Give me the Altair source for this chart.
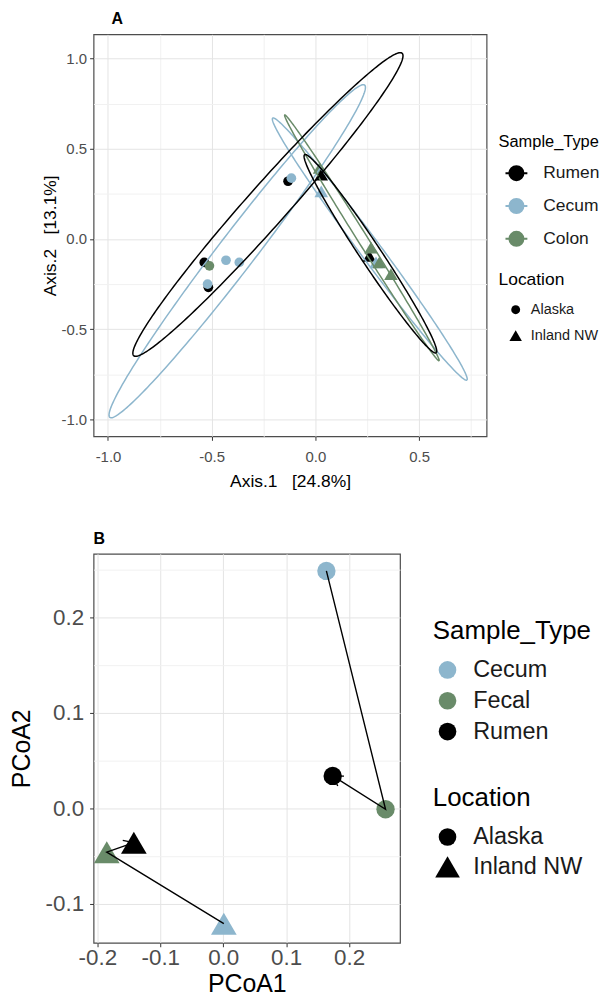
import math
import altair as alt
import numpy as np
import pandas as pd

FONT = "Liberation Sans"
BLACK = "#000000"
BLUE = "#8DB6CD"
GREEN = "#698B69"
TRI = "M0,-1.2L1.4,1.2L-1.4,1.2Z"
GLYPH = "M-1,0L1,0M0.64,0A0.64,0.64,0,1,1,-0.64,0A0.64,0.64,0,1,1,0.64,0Z"
CHEVRON = "M-1,-0.6L0,0L-1,0.6"

# ---------------- Panel A data ----------------
a_type = ["Rumen", "Colon", "Cecum", "Cecum", "Rumen", "Cecum", "Rumen", "Cecum",
          "Colon", "Rumen", "Cecum", "Rumen", "Colon", "Cecum", "Colon", "Colon"]
a_loc = ["Alaska", "Alaska", "Alaska", "Alaska", "Alaska", "Alaska", "Alaska", "Alaska",
         "Inland NW", "Inland NW", "Inland NW", "Inland NW", "Inland NW", "Inland NW",
         "Inland NW", "Inland NW"]
a_x = [-0.536, -0.511, -0.431, -0.367, -0.516, -0.520, -0.132, -0.116,
       0.020, 0.028, 0.028, 0.260, 0.268, 0.292, 0.308, 0.364]
a_y = [-0.130, -0.149, -0.118, -0.130, -0.268, -0.250, 0.320, 0.337,
       0.393, 0.356, 0.264, -0.094, -0.048, -0.130, -0.130, -0.195]

# ellipses: centre + two conjugate semi-axes (data units)
ell_id = ["1_cecum_big", "2_cecum_narrow", "3_colon", "4_rumen_big", "5_rumen_narrow"]
ell_type = ["Cecum", "Cecum", "Colon", "Rumen", "Rumen"]
ell_cx = [-0.377, 0.262, 0.224, -0.229, 0.265]
ell_cy = [-0.068, -0.056, 0.006, 0.191, -0.082]
ell_ax = [0.614, 0.468, 0.372, 0.647, 0.317]
ell_ay = [0.921, -0.726, -0.681, 0.838, -0.549]
ell_bx = [0.0705, 0.040, 0.020, 0.073, 0.042]
ell_by = [-0.062, 0.034, 0.015, -0.075, 0.032]

a_xmajor = [-1.0, -0.5, 0.0, 0.5]
a_xminor = [-0.75, -0.25, 0.25, 0.75]
a_ymajor = [-1.0, -0.5, 0.0, 0.5, 1.0]
a_yminor = [-0.75, -0.25, 0.25, 0.75]
a_xdom = [-1.0695, 0.825]
a_ydom = [-1.094, 1.134]

# ---------------- Panel B data ----------------
b_type = ["Cecum", "Fecal", "Rumen", "Cecum", "Fecal", "Rumen"]
b_loc = ["Alaska", "Alaska", "Alaska", "Inland NW", "Inland NW", "Inland NW"]
b_x = [0.164, 0.258, 0.174, 0.001, -0.185, -0.142]
b_y = [0.249, -0.001, 0.034, -0.121, -0.046, -0.036]
b_step = [0, 1, 2, 0, 1, 2]

b_xmajor = [-0.2, -0.1, 0.0, 0.1, 0.2]
b_xminor = [-0.15, -0.05, 0.05, 0.15, 0.25]
b_ymajor = [-0.1, 0.0, 0.1, 0.2]
b_yminor = [-0.05, 0.05, 0.15, 0.25]
b_xdom = [-0.206, 0.281]
b_ydom = [-0.141, 0.267]

WA, HA = 395, 404
WB, HB = 308, 391


def axis(major, minor, title, lfs, tfs, tpad, lpad):
    arr = "[" + ",".join(str(v) for v in major) + "]"
    test = f"indexof({arr}, datum.value) >= 0"
    return alt.Axis(
        values=major + minor,
        title=title,
        labelExpr=f"({test}) ? replace(format(datum.value, '.1f'), '\u2212', '-') : ''",
        tickOpacity={"condition": {"test": test, "value": 1}, "value": 0},
        gridColor={"condition": {"test": test, "value": "#E4E4E4"}, "value": "#F1F1F1"},
        gridWidth=1,
        grid=True,
        tickSize=4,
        tickColor="#333333",
        tickWidth=1,
        domain=False,
        labelFont=FONT,
        labelFontSize=lfs,
        labelColor="#4D4D4D",
        labelPadding=lpad,
        labelFlush=False,
        labelOverlap=False,
        titleFont=FONT,
        titleFontSize=tfs,
        titleFontWeight="normal",
        titleColor="black",
        titlePadding=tpad,
    )


# ---------------- Panel A ----------------
ptsA = pd.DataFrame({"type": a_type, "loc": a_loc, "x": a_x, "y": a_y})
t = np.linspace(0, 2 * np.pi, 241)
rows = []
for i in range(len(ell_id)):
    for k, tt in enumerate(t):
        rows.append({
            "eid": ell_id[i], "type": ell_type[i], "idx": k,
            "x": ell_cx[i] + ell_ax[i] * math.cos(tt) + ell_bx[i] * math.sin(tt),
            "y": ell_cy[i] + ell_ay[i] * math.cos(tt) + ell_by[i] * math.sin(tt),
        })
ellA = pd.DataFrame(rows)

xA = alt.X("x:Q", scale=alt.Scale(domain=a_xdom, nice=False, zero=False),
           axis=axis(a_xmajor, a_xminor, "Axis.1\u00a0\u00a0\u00a0[24.8%]", 15, 17.5, 8, 9))
yA = alt.Y("y:Q", scale=alt.Scale(domain=a_ydom, nice=False, zero=False),
           axis=axis(a_ymajor, a_yminor, "Axis.2\u00a0\u00a0\u00a0[13.1%]", 15, 17.5, 1, 3))

colA = alt.Scale(domain=["Rumen", "Cecum", "Colon"], range=[BLACK, BLUE, GREEN])
shpA = alt.Scale(domain=["Alaska", "Inland NW"], range=["circle", TRI])

legTypeA = alt.Legend(title="Sample_Type", orient="none", legendX=407, legendY=100,
                      symbolType=GLYPH, symbolSize=484, symbolStrokeWidth=2, symbolOffset=6,
                      titleFont=FONT, titleFontSize=16.5, titleFontWeight="normal", titleColor="black",
                      labelFont=FONT, labelFontSize=17.5, labelColor="#1a1a1a",
                      titlePadding=11, rowPadding=9, labelOffset=15)
legLocA = alt.Legend(title="Location", orient="none", legendX=407, legendY=238,
                     symbolSize=80, symbolStrokeWidth=0, symbolOffset=10,
                     titleFont=FONT, titleFontSize=17.5, titleFontWeight="normal", titleColor="black",
                     labelFont=FONT, labelFontSize=14.5, labelColor="#1a1a1a",
                     titlePadding=14, rowPadding=11, labelOffset=8)

pointsA = alt.Chart(ptsA).mark_point(filled=True, size=95, opacity=1, strokeWidth=0).encode(
    x=xA, y=yA,
    fill=alt.Fill("type:N", scale=colA, legend=legTypeA),
    shape=alt.Shape("loc:N", scale=shpA, legend=legLocA),
)
ellipsesA = alt.Chart(ellA).mark_line(strokeWidth=1.5, clip=True).encode(
    x="x:Q", y="y:Q",
    stroke=alt.Stroke("type:N", scale=colA, legend=legTypeA),
    detail="eid:N",
    order="idx:Q",
)
chartA = alt.layer(pointsA, ellipsesA).properties(
    width=WA, height=HA,
    title=alt.TitleParams("A", anchor="start", frame="group", dx=18, offset=7,
                          font=FONT, fontSize=16, fontWeight="bold", color="black"),
)

# ---------------- Panel B ----------------
ptsB = pd.DataFrame({"type": b_type, "loc": b_loc, "x": b_x, "y": b_y, "step": b_step})

sx = WB / (b_xdom[1] - b_xdom[0])
sy = HB / (b_ydom[1] - b_ydom[0])
arr_rows = []
for loc in ["Alaska", "Inland NW"]:
    sub = ptsB[ptsB["loc"] == loc].sort_values("step")
    p, q = sub.iloc[-2], sub.iloc[-1]
    dx = (q["x"] - p["x"]) * sx
    dy = -(q["y"] - p["y"]) * sy
    ang = math.degrees(math.atan2(dy, dx)) % 360
    arr_rows.append({"x": q["x"], "y": q["y"], "ang": ang})
arrB = pd.DataFrame(arr_rows)

xB = alt.X("x:Q", scale=alt.Scale(domain=b_xdom, nice=False, zero=False),
           axis=axis(b_xmajor, b_xminor, "PCoA1", 22.5, 25, 2, 0))
yB = alt.Y("y:Q", scale=alt.Scale(domain=b_ydom, nice=False, zero=False),
           axis=axis(b_ymajor, b_yminor, "PCoA2", 22.5, 25, 11, 6))

colB = alt.Scale(domain=["Cecum", "Fecal", "Rumen"], range=[BLUE, GREEN, BLACK])
shpB = alt.Scale(domain=["Alaska", "Inland NW"], range=["circle", TRI])

legTypeB = alt.Legend(title="Sample_Type", orient="none", legendX=341, legendY=65,
                      symbolType="circle", symbolSize=314, symbolStrokeWidth=0, symbolOffset=3,
                      titleFont=FONT, titleFontSize=26, titleFontWeight="normal", titleColor="black",
                      labelFont=FONT, labelFontSize=23.5, labelColor="#1a1a1a",
                      titlePadding=14, rowPadding=6, labelOffset=14)
legLocB = alt.Legend(title="Location", orient="none", legendX=341, legendY=233,
                     symbolSize=314, symbolStrokeWidth=0, symbolOffset=3,
                     titleFont=FONT, titleFontSize=26, titleFontWeight="normal", titleColor="black",
                     labelFont=FONT, labelFontSize=23.5, labelColor="#1a1a1a",
                     titlePadding=14, rowPadding=5, labelOffset=14)

pointsB = alt.Chart(ptsB).mark_point(filled=True, size=340, opacity=1, strokeWidth=0).encode(
    x=xB, y=yB,
    fill=alt.Fill("type:N", scale=colB, legend=legTypeB),
    shape=alt.Shape("loc:N", scale=shpB, legend=legLocB),
)
pathB = alt.Chart(ptsB).mark_line(color="black", strokeWidth=1.4).encode(
    x="x:Q", y="y:Q", detail="loc:N", order="step:Q",
)
headB = alt.Chart(arrB).mark_point(shape=CHEVRON, filled=False, size=380, color="black",
                                   strokeWidth=1.4, opacity=1).encode(
    x="x:Q", y="y:Q", angle=alt.Angle("ang:Q", scale=None),
)
chartB = alt.layer(pointsB, pathB, headB).properties(
    width=WB, height=HB,
    title=alt.TitleParams("B", anchor="start", frame="group", dx=0, offset=7,
                          font=FONT, fontSize=16, fontWeight="bold", color="black"),
)

chart = alt.vconcat(chartA, chartB, spacing=118, bounds="flush").resolve_scale(
    fill="independent", stroke="independent", shape="independent"
).properties(
    padding={"left": 0, "top": 0, "right": 0, "bottom": -4}
).configure_view(stroke="#4D4D4D", strokeWidth=1.2)

chart.save("out.html", embed_options={"renderer": "svg", "actions": False})
